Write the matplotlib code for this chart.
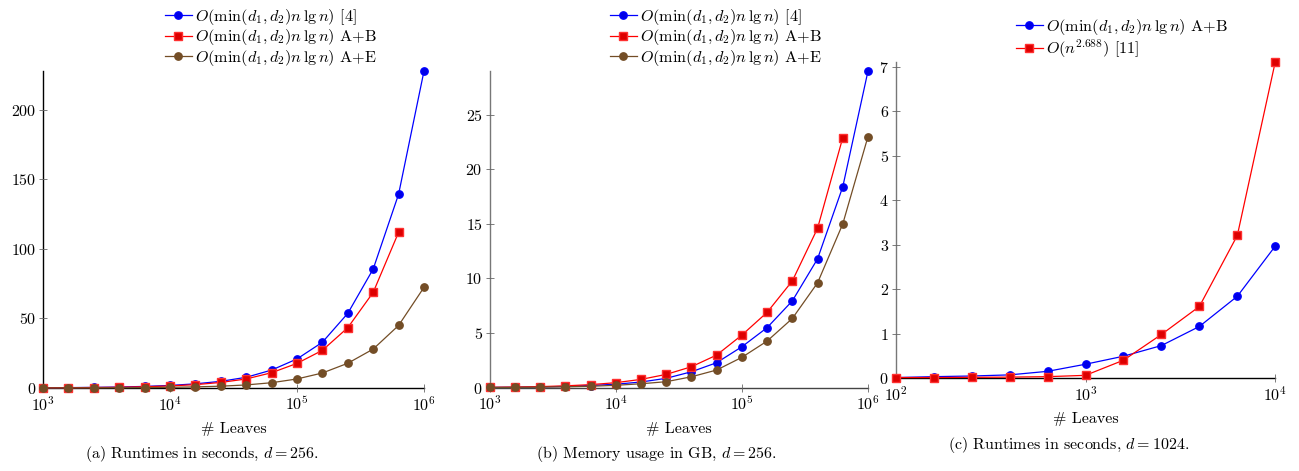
import numpy as np
import matplotlib
matplotlib.use("Agg")
import matplotlib.pyplot as plt

plt.rcParams['font.family'] = 'serif'
plt.rcParams['font.serif'] = ['cmr10', 'DejaVu Serif']
plt.rcParams['mathtext.fontset'] = 'cm'
plt.rcParams['axes.formatter.use_mathtext'] = True
plt.rcParams['axes.unicode_minus'] = False
plt.rcParams['font.size'] = 11.5

# ---------------- data ----------------
# Panel (a)/(b): leaves 10^3 ... 10^6, step 10^0.2
exp_ab = [3.0, 3.2, 3.4, 3.6, 3.8, 4.0, 4.2, 4.4, 4.6, 4.8, 5.0, 5.2, 5.4, 5.6, 5.8, 6.0]
leaves_ab = [10 ** e for e in exp_ab]

runtime_ref4 = [0.17, 0.28, 0.45, 0.7, 1.15, 1.85, 3.0, 4.8, 7.7, 12.9, 20.9, 32.9, 53.7, 85.6, 139.4, 228.0]
runtime_AB = [0.13, 0.2, 0.35, 0.55, 0.9, 1.5, 2.4, 4.0, 6.5, 11.0, 17.7, 27.1, 43.4, 68.8, 112.0]
runtime_AE = [0.04, 0.06, 0.1, 0.18, 0.3, 0.5, 0.8, 1.3, 2.2, 3.8, 6.5, 10.8, 17.8, 28.0, 45.0, 72.4]

memory_ref4 = [0.025, 0.04, 0.07, 0.12, 0.2, 0.32, 0.52, 0.86, 1.46, 2.29, 3.75, 5.5, 7.95, 11.8, 18.4, 29.0]
memory_AB = [0.035, 0.06, 0.1, 0.17, 0.28, 0.46, 0.76, 1.22, 1.92, 2.99, 4.82, 6.9, 9.78, 14.6, 22.9]
memory_AE = [0.02, 0.03, 0.05, 0.08, 0.13, 0.22, 0.36, 0.55, 1.0, 1.62, 2.78, 4.27, 6.34, 9.6, 15.0, 23.0]

# Panel (c): leaves 10^2 ... 10^4, step 10^0.2
exp_c = [2.0, 2.2, 2.4, 2.6, 2.8, 3.0, 3.2, 3.4, 3.6, 3.8, 4.0]
leaves_c = [10 ** e for e in exp_c]
runtime_c_AB = [0.01, 0.03, 0.045, 0.07, 0.15, 0.31, 0.49, 0.73, 1.16, 1.84, 2.97]
runtime_c_ref11 = [0.01, 0.01, 0.015, 0.02, 0.03, 0.06, 0.40, 0.98, 1.61, 3.21, 7.12]

label_ref4 = r'$O(\min(d_1,d_2)n\,\lg n)$ [4]'
label_AB = r'$O(\min(d_1,d_2)n\,\lg n)$ A+B'
label_AE = r'$O(\min(d_1,d_2)n\,\lg n)$ A+E'
label_ref11 = r'$O(n^{2.688})$ [11]'

captions = [r'(a) Runtimes in seconds, $d = 256$.',
            r'(b) Memory usage in GB, $d = 256$.',
            r'(c) Runtimes in seconds, $d = 1024$.']

# ---------------- styles ----------------
BLUE = '#0000ff'
RED = '#ff0000'
BROWN = '#734d26'
blue_kw = dict(color=BLUE, marker='o', markersize=5.3, markerfacecolor='#0000e6',
               markeredgecolor='#0000ff', linewidth=0.9)
red_kw = dict(color=RED, marker='s', markersize=5.4, markerfacecolor='#dd0000',
              markeredgecolor='#ff3030', linewidth=0.9)
brown_kw = dict(color=BROWN, marker='o', markersize=5.3, markerfacecolor=BROWN,
                markeredgecolor=BROWN, linewidth=0.9)

W, H = 1299, 471
fig = plt.figure(figsize=(W / 100, H / 100), dpi=100)


def px_axes(left, right, top, bottom):
    return fig.add_axes([left / W, 1 - bottom / H, (right - left) / W, (bottom - top) / H])


def style(ax, yaxis_color, xaxis_color):
    ax.set_xscale('log')
    for s in ['top', 'right']:
        ax.spines[s].set_visible(False)
    ax.spines['left'].set_color(yaxis_color)
    ax.spines['bottom'].set_color(xaxis_color)
    ax.spines['left'].set_linewidth(1.0)
    ax.spines['bottom'].set_linewidth(1.0)
    ax.tick_params(which='major', direction='inout', length=6, width=0.6,
                   color='#666666', labelsize=11.5, pad=2)
    ax.minorticks_off()
    for sp in ax.spines.values():
        sp.set_zorder(0.5)


# ---- panel (a)
ax1 = px_axes(43, 424, 71, 388)
ax1.plot(leaves_ab, runtime_ref4, **blue_kw, label=label_ref4)
ax1.plot(leaves_ab[:len(runtime_AB)], runtime_AB, **red_kw, label=label_AB)
ax1.plot(leaves_ab, runtime_AE, **brown_kw, label=label_AE)
ax1.set_xlim(1e3, 1e6)
ax1.set_ylim(0, 228)
ax1.set_yticks([0, 50, 100, 150, 200])
ax1.set_xticks([1e3, 1e4, 1e5, 1e6])
style(ax1, 'black', 'black')

# ---- panel (b)
ax2 = px_axes(489.7, 868, 71, 387.7)
ax2.plot(leaves_ab, memory_ref4, **blue_kw, label=label_ref4)
ax2.plot(leaves_ab[:len(memory_AB)], memory_AB, **red_kw, label=label_AB)
ax2.plot(leaves_ab, memory_AE, **brown_kw, label=label_AE)
ax2.set_xlim(1e3, 1e6)
ax2.set_ylim(0, 29.0)
ax2.set_yticks([0, 5, 10, 15, 20, 25])
ax2.set_xticks([1e3, 1e4, 1e5, 1e6])
style(ax2, '#777777', '#444444')

# ---- panel (c)
ax3 = px_axes(895.7, 1275.3, 61.7, 378)
ax3.plot(leaves_c, runtime_c_AB, **blue_kw, label=label_AB)
ax3.plot(leaves_c, runtime_c_ref11, **red_kw, label=label_ref11)
ax3.set_xlim(1e2, 1e4)
ax3.set_ylim(0, 7.12)
ax3.set_yticks([0, 1, 2, 3, 4, 5, 6, 7])
ax3.set_xticks([1e2, 1e3, 1e4])
style(ax3, '#777777', 'black')

for ax in (ax1, ax2, ax3):
    for ln in ax.lines:
        ln.set_clip_on(False)
    ax.set_xlabel('# Leaves', fontsize=11.5, labelpad=6)

# legends
leg_kw = dict(frameon=False, fontsize=11.7, handlelength=1.66, handletextpad=0.2,
              labelspacing=0.02, borderpad=0, borderaxespad=0, loc='upper left')
ax1.legend(bbox_to_anchor=(165 / W, 1 - 7 / H), bbox_transform=fig.transFigure, **leg_kw)
ax2.legend(bbox_to_anchor=(610 / W, 1 - 7 / H), bbox_transform=fig.transFigure, **leg_kw)
ax3.legend(bbox_to_anchor=(1016 / W, 1 - 17 / H), bbox_transform=fig.transFigure, **leg_kw)

# captions
fig.text(202.5 / W, 1 - 454 / H, captions[0], ha='center', va='center', fontsize=11.5)
fig.text(656 / W, 1 - 454 / H, captions[1], ha='center', va='center', fontsize=11.5)
fig.text(1069 / W, 1 - 445 / H, captions[2], ha='center', va='center', fontsize=11.5)

fig.savefig('out.png', dpi=100)
